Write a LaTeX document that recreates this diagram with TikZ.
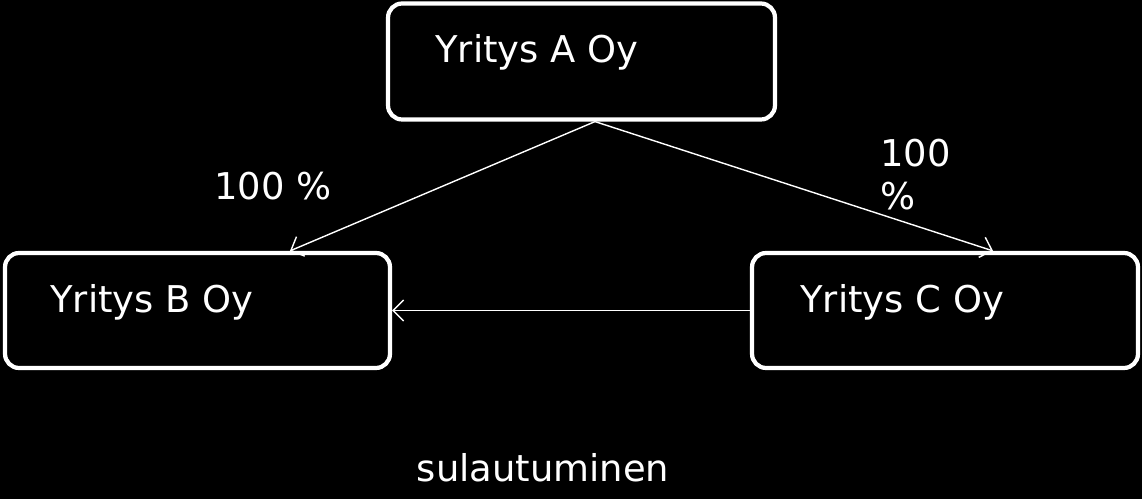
\documentclass[tikz,border=0pt]{standalone}
\usepackage{fontspec}
\setmainfont{DejaVu Sans}
\usetikzlibrary{arrows.meta}
\begin{document}
\begin{tikzpicture}[x=0.02cm,y=-0.02cm,
  box/.style={draw=white,line width=2.4pt,rounded corners=8pt,fill=black,minimum width=7.74cm,minimum height=2.32cm,inner sep=0pt},
  txt/.style={text=white,font=\fontsize{21}{25}\selectfont,inner sep=0pt},
  conn/.style={draw=white,line width=0.8pt,-{Straight Barb[length=6pt,width=12pt]}}]
\fill[black] (0,0) rectangle (1142,499);
\useasboundingbox (0,0) rectangle (1142,499);
\node[box] (A) at (581.5,61.5) {};
\node[box,minimum width=7.7cm,minimum height=2.3cm] (B) at (197.5,310.5) {};
\node[box,minimum width=7.72cm,minimum height=2.3cm] (C) at (945,310.5) {};
\node[txt,anchor=west] (ta) at (435,52) {Yritys A Oy};
\node[txt,anchor=west] (tb) at (50,302) {Yritys B Oy};
\node[txt,anchor=west] (tc) at (800,302) {Yritys C Oy};
\coordinate (Ab) at ([xshift=0.27cm]A.south);
\coordinate (Bt) at ([xshift=1.85cm]B.north);
\coordinate (Ct) at ([xshift=0.96cm]C.north);
\draw[conn] (Ab) -- (Bt);
\draw[conn] (Ab) -- (Ct);
\draw[conn] (C.west) -- (B.east);
\node[txt,anchor=west] (l1) at (214,186) {100 \%};
\node[txt,anchor=west] (l2) at (880,153) {100};
\node[txt,anchor=west] (l3) at (880,196) {\%};
\node[txt] (s) at (543,468) {sulautuminen};
\end{tikzpicture}
\end{document}
